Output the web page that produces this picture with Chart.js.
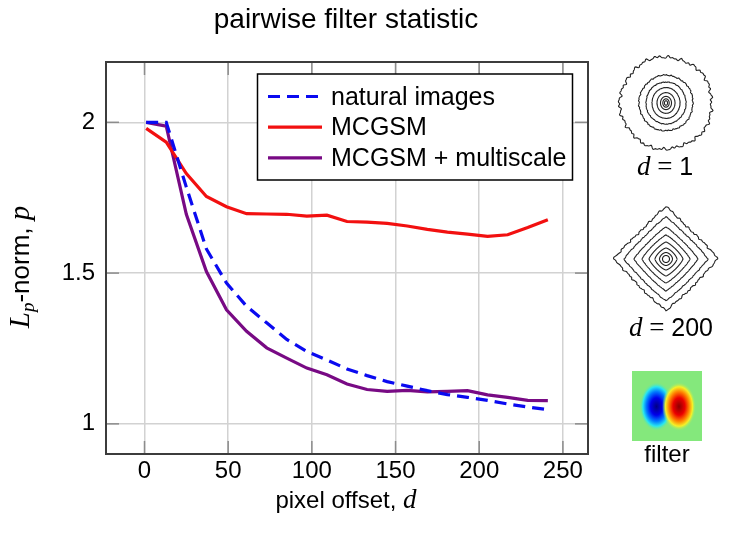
<!DOCTYPE html>
<html>
<head>
<meta charset="utf-8">
<script src="https://cdn.jsdelivr.net/npm/chart.js@4.4.0/dist/chart.umd.min.js"></script>
<style>
    body { margin: 0; background: #fff; }
    #wrap { width: 730px; height: 547px; }
</style>
</head>
<body>
<div id="wrap"><canvas id="lp-chart" width="730" height="547"></canvas></div>
<script>
    // pixel offset d
    const offsets = [1, 13, 25, 37, 49, 61, 73, 85, 97, 109, 121, 133, 145, 157, 169, 181, 193, 205, 217, 229, 241]
    // L_p norm p for each model
    const naturalImages = [2.0, 2.0, 1.785, 1.58, 1.467, 1.39, 1.335, 1.28, 1.24, 1.212, 1.182, 1.16, 1.14, 1.125, 1.11, 1.097, 1.088, 1.078, 1.066, 1.056, 1.047]
    const mcgsm = [1.98, 1.934, 1.83, 1.754, 1.72, 1.697, 1.696, 1.695, 1.689, 1.692, 1.671, 1.669, 1.665, 1.656, 1.645, 1.636, 1.629, 1.622, 1.627, 1.651, 1.677]
    const mcgsmMultiscale = [2.0, 1.987, 1.695, 1.505, 1.378, 1.307, 1.252, 1.218, 1.185, 1.163, 1.132, 1.114, 1.108, 1.111, 1.106, 1.108, 1.11, 1.096, 1.088, 1.078, 1.077]
    const seriesNames = ['natural images', 'MCGSM', 'MCGSM + multiscale']
    const xTicks = [0, 50, 100, 150, 200, 250]
    const yTicks = [1, 1.5, 2]

    const SANS = '"Liberation Sans", Arial, sans-serif'
    const SERIF = '"Liberation Serif", "Times New Roman", serif'

    function points(ys) {
        return offsets.map((d, i) => ({ x: d, y: ys[i] }))
    }

    // text made of pieces in different fonts, centred on cx
    function drawRuns(ctx, runs, cx, baseline) {
        let total = 0
        runs.forEach(r => { ctx.font = r.font; r.w = ctx.measureText(r.text).width; total += r.w })
        let x = cx - total / 2
        ctx.textAlign = 'left'
        ctx.textBaseline = 'alphabetic'
        runs.forEach(r => {
            ctx.font = r.font
            ctx.fillText(r.text, x, baseline + (r.dy || 0))
            x += r.w
        })
    }

    // ragged edge for the contour sketches
    function wobble(t, k) {
        return k * (0.25 * Math.sin(5 * t + 1) + 0.3 * Math.sin(23 * t + 2) + 0.25 * Math.sin(41 * t + 0.5) + 0.2 * Math.sin(67 * t))
    }

    function ring(ctx, cx, cy, R, p, k, sy) {
        ctx.beginPath()
        for (let i = 0; i <= 360; i++) {
            const t = i / 360 * Math.PI * 2
            const c = Math.cos(t), s = Math.sin(t)
            const r = R / Math.pow(Math.pow(Math.abs(c), p) + Math.pow(Math.abs(s), p), 1 / p) * (1 + wobble(t + R, k))
            const x = cx + r * c, y = cy + r * s * sy
            if (i == 0) ctx.moveTo(x, y)
            else ctx.lineTo(x, y)
        }
        ctx.closePath()
        ctx.stroke()
    }

    const framePlugin = {
        id: 'frame',
        afterDatasetsDraw(chart) {
            const { ctx, chartArea: a, scales } = chart
            ctx.save()
            ctx.strokeStyle = '#8c8c8c'
            ctx.lineWidth = 1.5
            const seg = (x1, y1, x2, y2) => { ctx.beginPath(); ctx.moveTo(x1, y1); ctx.lineTo(x2, y2); ctx.stroke() }
            yTicks.forEach(v => {
                const y = scales.y.getPixelForValue(v)
                seg(a.left, y, a.left + 13, y)
                seg(a.right - 13, y, a.right, y)
            })
            xTicks.forEach(v => {
                const x = scales.x.getPixelForValue(v)
                seg(x, a.bottom, x, a.bottom - 13)
                seg(x, a.top, x, a.top + 13)
            })
            ctx.strokeStyle = '#3c3c3c'
            ctx.lineWidth = 2
            ctx.strokeRect(a.left, a.top, a.right - a.left, a.bottom - a.top)
            ctx.restore()
        }
    }

    const textPlugin = {
        id: 'texts',
        afterDraw(chart) {
            const ctx = chart.ctx
            ctx.save()
            ctx.fillStyle = '#000'

            // title
            drawRuns(ctx, [{ text: 'pairwise filter statistic', font: '28px ' + SANS }], 346, 28)

            // x axis title
            drawRuns(ctx, [
                { text: 'pixel offset, ', font: '24px ' + SANS },
                { text: 'd', font: 'italic 27px ' + SERIF }
            ], 346, 508)

            // y axis title
            ctx.save()
            ctx.translate(29, 267)
            ctx.rotate(-Math.PI / 2)
            drawRuns(ctx, [
                { text: 'L', font: 'italic 29px ' + SERIF },
                { text: 'p', font: 'italic 19px ' + SERIF, dy: 5 },
                { text: '-norm, ', font: '26px ' + SANS },
                { text: 'p', font: 'italic 29px ' + SERIF }
            ], 0, 0)
            ctx.restore()

            // legend box
            const ds = chart.data.datasets
            ctx.fillStyle = '#fff'
            ctx.fillRect(257.5, 74, 315, 106)
            ctx.strokeStyle = '#000'
            ctx.lineWidth = 1.5
            ctx.strokeRect(257.5, 74, 315, 106)
            ds.forEach((d, i) => {
                const y = 96.5 + i * 30.7
                ctx.save()
                ctx.strokeStyle = d.borderColor
                ctx.lineWidth = d.borderWidth
                ctx.setLineDash(d.borderDash || [])
                ctx.beginPath()
                ctx.moveTo(268, y)
                ctx.lineTo(322, y)
                ctx.stroke()
                ctx.restore()
                ctx.fillStyle = '#000'
                ctx.font = '25px ' + SANS
                ctx.textAlign = 'left'
                ctx.textBaseline = 'alphabetic'
                ctx.fillText(d.label, 331, y + 8)
            })

            // contour plots on the right
            ctx.strokeStyle = '#222'
            ctx.lineWidth = 1.1
            ring(ctx, 666, 103, 46, 2, 0.06, 1)
            ring(ctx, 666, 103, 27, 2, 0.035, 1.03)
            ring(ctx, 666, 103, 20, 2, 0.025, 1.05)
            ring(ctx, 666, 103, 14, 2, 0.015, 1.1)
            ring(ctx, 666, 103, 9, 2, 0.01, 1.15)
            ring(ctx, 666, 103, 5.5, 2, 0, 1.2)
            ring(ctx, 666, 103, 3.2, 2, 0, 1.3)
            ring(ctx, 666, 103, 1.6, 2, 0, 1.4)

            ring(ctx, 666, 259, 52, 1.05, 0.04, 1)
            ring(ctx, 666, 259, 42, 1.08, 0.02, 1)
            ring(ctx, 666, 259, 32, 1.12, 0.012, 1)
            ring(ctx, 666, 259, 24, 1.18, 0.008, 1)
            ring(ctx, 666, 259, 17, 1.25, 0, 1)
            ring(ctx, 666, 259, 11, 1.4, 0, 1)
            ring(ctx, 666, 259, 6.5, 1.7, 0, 1)
            ring(ctx, 666, 259, 3.5, 2, 0, 1)

            ctx.fillStyle = '#000'
            drawRuns(ctx, [
                { text: 'd', font: 'italic 27px ' + SERIF },
                { text: ' = ', font: '27px ' + SERIF },
                { text: '1', font: '25px ' + SANS }
            ], 665, 175)
            drawRuns(ctx, [
                { text: 'd', font: 'italic 27px ' + SERIF },
                { text: ' = ', font: '27px ' + SERIF },
                { text: '200', font: '25px ' + SANS }
            ], 671, 336)

            // filter image
            ctx.fillStyle = 'rgb(132,232,124)'
            ctx.fillRect(632, 371, 70, 70)
            const blob = (cx, stops) => {
                ctx.save()
                ctx.beginPath()
                ctx.rect(632, 371, 70, 70)
                ctx.clip()
                ctx.translate(cx, 406.5)
                ctx.scale(1, 1.45)
                const g = ctx.createRadialGradient(0, 0, 0, 0, 0, 17)
                stops.forEach(s => g.addColorStop(s[0], s[1]))
                ctx.fillStyle = g
                ctx.beginPath()
                ctx.arc(0, 0, 17, 0, Math.PI * 2)
                ctx.fill()
                ctx.restore()
            }
            blob(656.5, [[0, 'rgb(0,0,130)'], [0.35, 'rgb(0,0,235)'], [0.6, 'rgb(0,120,255)'], [0.8, 'rgb(40,230,240)'], [1, 'rgba(132,232,124,0)']])
            blob(679, [[0, 'rgb(140,0,0)'], [0.35, 'rgb(235,0,0)'], [0.6, 'rgb(255,130,0)'], [0.8, 'rgb(245,240,40)'], [1, 'rgba(132,232,124,0)']])

            ctx.fillStyle = '#000'
            drawRuns(ctx, [{ text: 'filter', font: '24px ' + SANS }], 667, 462)
            ctx.restore()
        }
    }

    new Chart(document.getElementById('lp-chart').getContext('2d'), {
        type: 'line',
        data: {
            datasets: [{
                label: seriesNames[0],
                data: points(naturalImages),
                borderColor: '#0a0af0',
                borderWidth: 3.2,
                borderDash: [12, 7]
            }, {
                label: seriesNames[1],
                data: points(mcgsm),
                borderColor: '#f21010',
                borderWidth: 3.2
            }, {
                label: seriesNames[2],
                data: points(mcgsmMultiscale),
                borderColor: '#780a84',
                borderWidth: 3.2
            }]
        },
        options: {
            responsive: false,
            animation: false,
            layout: { padding: { top: 62, right: 142, left: 0, bottom: 0 } },
            elements: { point: { radius: 0 }, line: { tension: 0 } },
            plugins: {
                legend: { display: false },
                title: { display: false },
                tooltip: { enabled: false }
            },
            scales: {
                x: {
                    type: 'linear',
                    min: -23,
                    max: 265,
                    afterBuildTicks: s => { s.ticks = xTicks.map(v => ({ value: v })) },
                    afterFit: s => { s.height = 93 },
                    grid: { color: '#d2d2d2', lineWidth: 1.5, drawTicks: false },
                    border: { display: false },
                    ticks: { color: '#000', font: { family: SANS, size: 24 }, padding: 3, maxRotation: 0 }
                },
                y: {
                    type: 'linear',
                    min: 0.9,
                    max: 2.2,
                    afterBuildTicks: s => { s.ticks = yTicks.map(v => ({ value: v })) },
                    afterFit: s => { s.width = 106 },
                    grid: { color: '#d2d2d2', lineWidth: 1.5, drawTicks: false },
                    border: { display: false },
                    ticks: { color: '#000', font: { family: SANS, size: 24 }, padding: 11, callback: v => String(v) }
                }
            }
        },
        plugins: [framePlugin, textPlugin]
    });
</script>
</body>
</html>
